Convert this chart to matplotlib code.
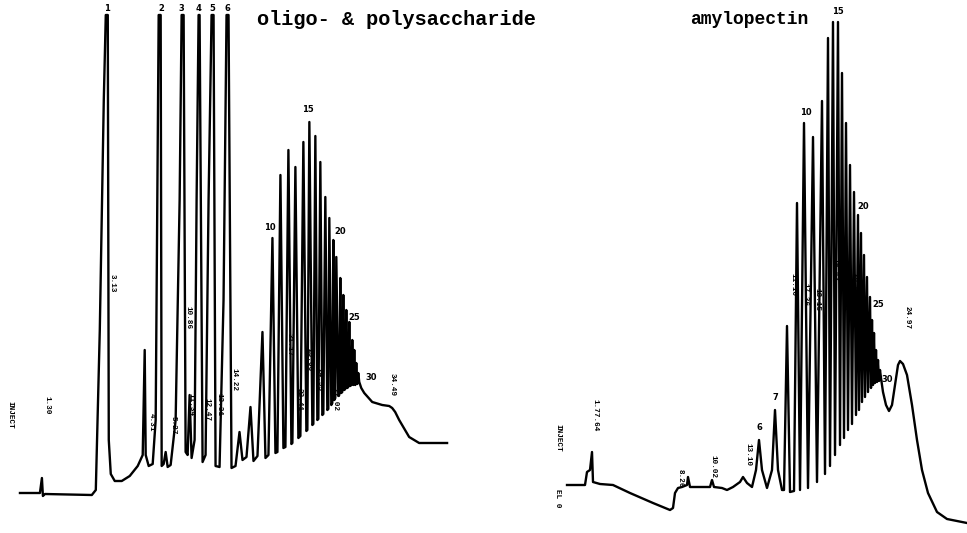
import matplotlib.pyplot as plt

plt.rcParams['font.family'] = 'Liberation Mono'

# trace vertices: time (min), detector response (mV)
oligo_t = [2.0, 4.0, 4.2, 4.3, 4.5, 9.2, 9.6, 10.0, 10.4, 10.6, 10.8, 10.9, 11.1, 11.5, 12.2, 13.0, 13.8, 14.3,
           14.5, 14.6, 14.9, 15.3, 15.6, 15.9, 16.1, 16.2, 16.4, 16.6, 16.8, 17.1, 17.6, 18.0, 18.2, 18.4, 18.6,
           18.8, 19.0, 19.2, 19.5, 19.7, 19.9, 20.0, 20.3, 20.6, 20.9, 21.2, 21.4, 21.6, 22.0, 22.4, 22.7, 22.9,
           23.2, 23.6, 24.0, 24.3, 24.7, 25.1, 25.4, 25.8, 26.3, 26.6, 26.9, 27.3, 27.6, 27.8, 28.1, 28.4, 28.6,
           28.9, 29.2, 29.3, 29.6, 29.9, 30.1, 30.4, 30.7, 30.8, 31.0, 31.3, 31.4, 31.6, 31.8, 31.9, 32.1, 32.3,
           32.4, 32.6, 32.8, 32.9, 33.0, 33.2, 33.3, 33.4, 33.5, 33.6, 33.7, 33.9, 34.0, 34.1, 34.2, 34.3, 34.4,
           34.5, 34.6, 34.7, 34.8, 34.9, 35.0, 35.1, 35.2, 35.3, 35.4, 35.5, 35.6, 35.7, 35.8, 35.9, 36.0, 36.2,
           36.5, 37.3, 38.3, 39.0, 39.3, 39.6, 40.0, 41.0, 42.0, 44.8]
oligo_mv = [4.0, 4.0, 5.5, 3.7, 3.9, 3.8, 4.3, 20.3, 43.3, 51.8, 51.8, 9.3, 5.9, 5.2, 5.2, 5.7, 6.7, 7.8,
            18.3, 7.8, 6.7, 6.9, 11.3, 51.8, 51.8, 6.7, 6.9, 8.1, 6.6, 6.8, 11.3, 33.3, 51.8, 51.8, 8.1,
            7.8, 13.8, 7.5, 9.3, 33.3, 51.8, 51.8, 7.1, 7.8, 33.3, 51.8, 51.8, 6.7, 6.6, 23.3, 51.8, 51.8,
            6.5, 6.7, 10.1, 7.3, 7.6, 12.6, 7.2, 7.7, 20.1, 7.5, 7.8, 29.5, 8.0, 8.1, 35.8, 8.5, 8.6,
            38.3, 8.9, 9.0, 36.6, 9.5, 9.7, 39.1, 10.2, 10.3, 41.1, 10.8, 10.9, 39.7, 11.3, 11.4, 37.1, 11.8,
            11.9, 33.6, 12.3, 12.4, 31.5, 12.8, 13.0, 29.3, 13.3, 13.5, 27.6, 13.7, 13.8, 25.5, 14.0, 14.1, 23.8,
            14.3, 14.4, 22.3, 14.5, 14.6, 21.1, 14.7, 14.8, 19.3, 14.8, 18.3, 14.8, 17.0, 14.9, 16.0, 15.1, 14.5,
            14.0, 13.1, 12.8, 12.7, 12.5, 12.1, 11.3, 9.6, 9.0, 9.0]

amylo_t = [8.4, 10.2, 10.4, 10.7, 10.9, 11.0, 11.7, 13.0, 14.7, 17.0, 18.7, 19.0, 19.2, 19.5, 19.9, 20.4,
           20.5, 20.7, 22.7, 22.9, 23.1, 23.9, 24.4, 25.0, 25.7, 26.0, 26.4, 26.9, 27.3, 27.6, 27.9, 28.4,
           28.9, 29.2, 29.5, 29.9, 30.1, 30.4, 30.7, 31.1, 31.4, 31.7, 32.1, 32.5, 33.0, 33.4, 33.9, 34.2,
           34.5, 34.7, 35.0, 35.2, 35.5, 35.7, 35.9, 36.1, 36.3, 36.5, 36.7, 36.9, 37.1, 37.3, 37.5, 37.6,
           37.8, 37.9, 38.1, 38.2, 38.4, 38.5, 38.7, 38.8, 38.9, 39.0, 39.1, 39.2, 39.3, 39.4, 39.5, 39.6,
           39.7, 39.8, 40.0, 40.3, 40.6, 40.9, 41.2, 41.5, 41.7, 42.0, 42.4, 42.9, 43.4, 43.9, 44.5, 45.4,
           46.4, 48.4]
amylo_mv = [4.8, 4.8, 6.1, 6.3, 8.1, 5.1, 4.9, 4.8, 4.0, 3.0, 2.3, 2.5, 4.0, 4.5, 4.6, 4.8,
            5.6, 4.6, 4.6, 5.3, 4.6, 4.5, 4.3, 4.6, 5.1, 5.6, 5.0, 4.6, 6.3, 9.3, 6.3, 4.5,
            6.3, 12.3, 6.3, 4.3, 4.3, 20.7, 4.1, 4.2, 33.0, 4.3, 41.0, 4.5, 39.6, 5.1, 43.2, 5.9,
            49.5, 6.7, 51.1, 7.8, 51.1, 8.8, 46.0, 9.5, 41.0, 10.3, 36.8, 10.9, 34.1, 11.8, 31.8, 12.3,
            30.0, 13.1, 27.8, 13.6, 25.6, 14.1, 23.6, 14.5, 21.3, 14.8, 20.0, 15.0, 18.3, 15.1, 17.3, 15.2,
            16.3, 15.5, 14.1, 12.8, 12.2, 12.8, 14.8, 16.8, 17.2, 16.9, 15.8, 12.8, 9.3, 6.3, 4.0, 2.1,
            1.4, 1.0]

# degree of polymerisation marks printed over the peaks
oligo_dp = ['1', '2', '3', '4', '5', '6', '10', '15', '20', '25', '30']
oligo_dp_t = [10.7, 16.2, 18.2, 19.9, 21.3, 22.8, 27.0, 30.9, 34.1, 35.5, 37.2]
oligo_dp_mv = [52.4, 52.4, 52.4, 52.4, 52.4, 52.4, 30.5, 42.3, 30.1, 21.5, 15.5]

amylo_dp = ['6', '7', '10', '15', '20', '25', '30']
amylo_dp_t = [27.6, 29.2, 32.3, 35.5, 38.0, 39.5, 40.4]
amylo_dp_mv = [10.5, 13.5, 42.0, 52.1, 32.6, 22.8, 15.3]

# retention times typed by the integrator
oligo_rt = ['INJECT', '1.30', '3.13', '4.31', '5.27', '10.86', '11.34', '12.47', '13.31', '14.22',
            '21.17', '22.41', '23.66', '24.93', '26.18', '27.02', '34.49']
oligo_rt_t = [1.0, 4.7, 11.2, 15.2, 17.3, 18.8, 19.1, 20.7, 21.9, 23.4,
              29.0, 30.0, 31.0, 32.0, 33.0, 33.6, 39.3]
oligo_rt_mv = [11.8, 12.8, 25.0, 11.1, 10.8, 21.5, 12.8, 12.3, 12.8, 15.3,
               18.8, 13.3, 17.3, 15.3, 18.3, 13.3, 14.8]

amylo_rt = ['INJECT', 'EL 0', '1.77.64', '8.26', '10.02', '13.10', '11.10',
            '17.36', '18.15', '19.42', '20.11', '20.84', '21.40', '24.97']
amylo_rt_t = [7.5, 7.4, 11.2, 19.7, 23.0, 26.5, 31.0,
              32.2, 33.4, 35.2, 36.2, 37.2, 37.9, 42.4]
amylo_rt_mv = [9.5, 3.5, 11.8, 5.5, 6.6, 7.8, 24.8,
               23.8, 23.3, 26.3, 23.3, 24.8, 21.3, 21.5]

fig = plt.figure(figsize=(9.67, 5.33), dpi=100)
ax = fig.add_axes([0, 0, 483/967, 1])
ay = fig.add_axes([483/967, 0, 484/967, 1])


def chromatogram(a, t, mv, dp, dp_t, dp_mv, rt, rt_t, rt_mv, title, title_t, title_size):
    a.plot(t, mv, color='black', linewidth=1.7, solid_joinstyle='round')
    for s, x, y in zip(dp, dp_t, dp_mv):
        a.text(x, y, s, ha='center', va='center', fontsize=6, fontweight='bold', family='DejaVu Sans')
    for s, x, y in zip(rt, rt_t, rt_mv):
        a.text(x, y, s, ha='center', va='center', fontsize=5.5, fontweight='bold', rotation=270)
    a.text(title_t, 51.3, title, ha='left', va='center', fontsize=title_size, fontweight='bold')
    a.set_xlim(0, 48.4)
    a.set_ylim(0, 53.3)
    a.axis('off')


chromatogram(ax, oligo_t, oligo_mv, oligo_dp, oligo_dp_t, oligo_dp_mv,
             oligo_rt, oligo_rt_t, oligo_rt_mv, 'oligo- & polysaccharide', 25.8, 14.6)
chromatogram(ay, amylo_t, amylo_mv, amylo_dp, amylo_dp_t, amylo_dp_mv,
             amylo_rt, amylo_rt_t, amylo_rt_mv, 'amylopectin', 20.7, 13)

fig.savefig('out.png', dpi=100)
